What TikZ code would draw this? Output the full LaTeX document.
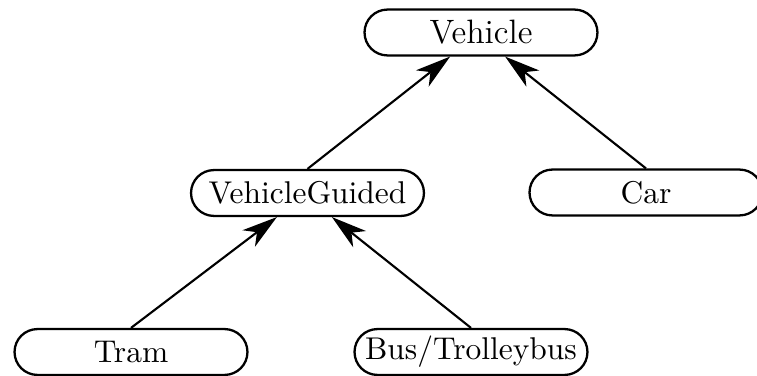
\documentclass[tikz,border=0pt]{standalone}
\usepackage{fontspec}
\usetikzlibrary{arrows.meta}
\begin{document}
\begin{tikzpicture}[x=0.34pt,y=-0.34pt,
  cls/.style={draw, line width=0.78pt, rounded corners=7.8pt,
    minimum width=79.2pt, minimum height=15.6pt, inner sep=0pt,
    font=\fontsize{10.7}{13}\selectfont},
  inherit/.style={line width=0.72pt,
    -{Stealth[length=12pt,width=7pt,inset=3.5pt]}}]
\useasboundingbox (0,0) rectangle (757,376);
% class boxes
\node[cls, font=\fontsize{11.5}{14}\selectfont] (vehicle) at (481,32.5) {Vehicle};
\node[cls] (vg)      at (307.5,193) {VehicleGuided};
\node[cls] (car)     at (646,192.5) {Car};
\node[cls] (tram)    at (131,352) {Tram};
\node[cls] (bus)     at (471,352) {Bus/Trolleybus};
% inheritance arrows
\draw[inherit] (vg.north)   -- ([xshift=-10.5pt]vehicle.south);
\draw[inherit] (car.north)  -- ([xshift=8.2pt]vehicle.south);
\draw[inherit] (tram.north) -- ([xshift=-10.4pt]vg.south);
\draw[inherit] (bus.north)  -- ([xshift=8.3pt]vg.south);
\end{tikzpicture}
\end{document}
